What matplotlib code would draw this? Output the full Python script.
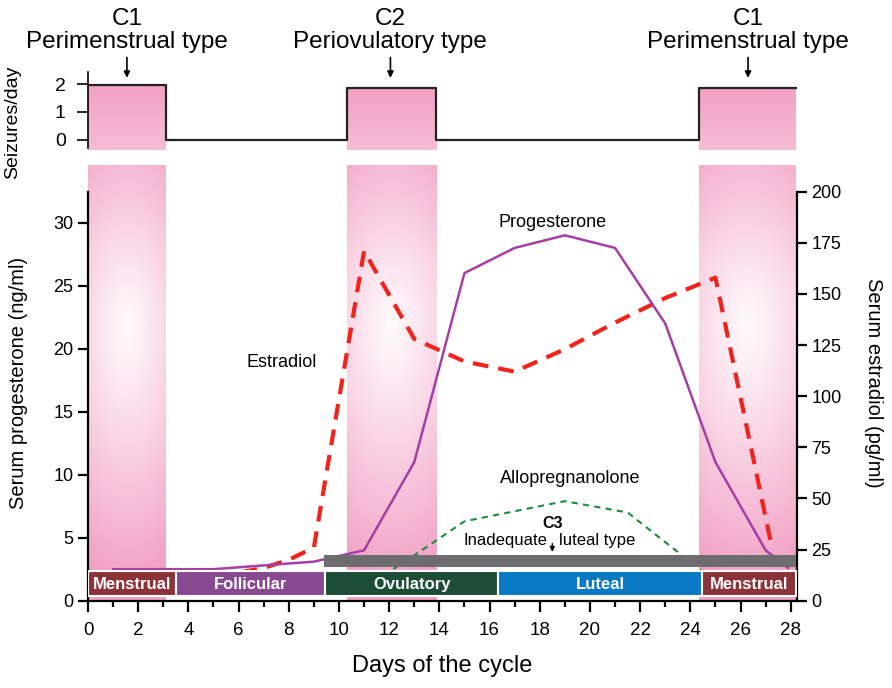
import numpy as np
import matplotlib.pyplot as plt
from matplotlib.colors import to_rgb

# data
days_prog = [1, 3, 5, 7, 9, 11, 13, 15, 17, 19, 21, 23, 25, 27, 27.9]
progesterone = [2.5, 2.5, 2.5, 2.8, 3.1, 4.0, 11.0, 26.0, 28.0, 29.0, 28.0, 22.0, 11.0, 4.0, 2.6]

days_e2 = [1, 3, 5, 7, 8, 9, 11, 13, 15, 17, 19, 21, 23, 25, 27.2]
estradiol = [8, 8.5, 11.5, 16, 20, 26, 171, 128, 117, 112, 123, 136, 148, 158, 29]

days_allo = [1, 5, 9, 11, 12, 13, 15, 17, 19, 21.5, 24.5]
allopregnanolone = [0.5, 0.5, 0.5, 1.0, 2.3, 3.6, 6.3, 7.1, 7.9, 7.0, 2.3]

phase_names = ['Menstrual', 'Follicular', 'Ovulatory', 'Luteal', 'Menstrual']
phase_start = [0, 3.5, 9.45, 16.35, 24.45]
phase_end = [3.5, 9.45, 16.35, 24.45, 28.2]
phase_colors = ['#8C3339', '#874A90', '#1E4D36', '#0A79C4', '#8C3339']

seizure_edges = [0.05, 3.1, 10.3, 13.85, 24.35, 28.2]
seizures = [1.97, 0, 1.85, 0, 1.85]

band_start = [0, 10.3, 24.35]
band_end = [3.1, 13.85, 28.2]
band_labels = ['C1\nPerimenstrual type', 'C2\nPeriovulatory type', 'C1\nPerimenstrual type']
band_label_days = [1.55, 12.05, 26.3]

c3_start, c3_end = 9.4, 28.2

plt.rcParams['font.family'] = ['Liberation Sans', 'DejaVu Sans']

pink = np.array(to_rgb('#F2A0C4'))

fig = plt.figure(figsize=(8.92, 6.88), dpi=100)
ax = fig.add_axes([88 / 892, 1 - 600.7 / 688, 709 / 892, (600.7 - 165) / 688])
ax2 = ax.twinx()
ax_top = fig.add_axes([88 / 892, 1 - 150 / 688, 709 / 892, 78 / 688])

xmax = 28.25
ymax_l = 34.58
ymax_r = ymax_l * 200 / 32.46

# estradiol and the pink bands sit on the lower (twin) axes
ax.set_zorder(ax2.get_zorder() + 1)
ax.patch.set_visible(False)

ny, nx = 200, 40
fy = np.linspace(0, 1, ny)[:, None]
fx = np.linspace(-1, 1, nx)[None, :]
dy = np.where(fy < 0.368, (fy - 0.368) / 0.5, (fy - 0.368) / 0.6)
r = np.sqrt(dy ** 2 + (0.4 * fx) ** 2)
alpha = 0.05 + 0.95 * np.clip(r, 0, 1) ** 1.1
img = np.ones((ny, nx, 3)) * (1 - alpha[..., None]) + pink * alpha[..., None]
for s, e in zip(band_start, band_end):
    ax2.imshow(img, extent=(s, e, 0, ymax_r), aspect='auto', origin='upper',
               interpolation='bilinear', zorder=0)

ax2.plot(days_e2, estradiol, color='#F2231C', lw=3, dashes=(3.8, 2.4), zorder=2)

ax.plot(days_allo, allopregnanolone, color='#1E8A3C', lw=1.5, dashes=(3, 2.5), zorder=2)
ax.plot(days_prog, progesterone, color='#A43FA6', lw=1.8, zorder=3)
ax.barh(3.12, c3_end - c3_start, left=c3_start, height=0.95, color='#6D6D6F', zorder=4)
ax.barh(1.35, np.subtract(phase_end, phase_start), left=phase_start, height=2.0,
        color=phase_colors, edgecolor='white', lw=1.5, zorder=5)
for name, s, e in zip(phase_names, phase_start, phase_end):
    ax.text((s + e) / 2, 1.3, name, color='white', fontsize=12, fontweight='bold',
            ha='center', va='center', zorder=6)

ax.text(7.7, 18.9, 'Estradiol', fontsize=13, ha='center', va='center')
ax.text(18.5, 30.0, 'Progesterone', fontsize=13, ha='center', va='center')
ax.text(19.2, 9.7, 'Allopregnanolone', fontsize=13, ha='center', va='center')
ax.text(18.5, 6.15, 'C3', fontsize=11.5, fontweight='bold', ha='center', va='center')
ax.text(18.3, 4.8, 'Inadequate', fontsize=12, ha='right', va='center')
ax.text(18.75, 4.8, 'luteal type', fontsize=12, ha='left', va='center')
ax.annotate('', xy=(18.5, 3.65), xytext=(18.5, 4.75),
            arrowprops=dict(arrowstyle='-|>', color='black', lw=1, mutation_scale=7))

ax.set_xlim(0, xmax)
ax.set_ylim(0, ymax_l)
ax2.set_ylim(0, ymax_r)
ax.set_xticks(range(0, 29, 2))
ax.set_xticks(range(1, 29, 2), minor=True)
ax.set_yticks(range(0, 31, 5))
ax2.set_yticks(range(0, 201, 25))
for a in (ax, ax2):
    a.spines['top'].set_visible(False)
    for sp in a.spines.values():
        sp.set_linewidth(1.6)
ax.spines['right'].set_visible(False)
ax2.spines['left'].set_visible(False)
ax2.spines['bottom'].set_visible(False)
ax.spines['left'].set_bounds(0, 32.46)
ax2.spines['right'].set_bounds(0, 200)
ax.tick_params(axis='x', which='major', length=8, width=1.6, labelsize=13.5, pad=7)
ax.tick_params(axis='x', which='minor', length=4, width=1.6)
ax.tick_params(axis='y', length=7, width=1.6, labelsize=13)
ax2.tick_params(axis='y', length=7, width=1.6, labelsize=13)
ax.set_xlabel('Days of the cycle', fontsize=17, labelpad=12)
ax.set_ylabel('Serum progesterone (ng/ml)', fontsize=14.5, labelpad=18)
ax2.set_ylabel('Serum estradiol (pg/ml)', fontsize=14.5, rotation=270, labelpad=30)

# top panel: seizure frequency
ty = np.linspace(0, 1, 60)[:, None, None]
top_img = pink * (1 - 0.3 * ty) + 0.3 * ty
for s, e, h in zip(band_start, band_end, [1.97, 1.85, 1.85]):
    ax_top.imshow(np.repeat(top_img, 2, axis=1), extent=(s, e, -0.36, h), aspect='auto',
                  origin='upper', interpolation='bilinear', zorder=0)
ax_top.step(seizure_edges, seizures + [seizures[-1]], where='post', color='#222222', lw=1.6, zorder=2)
ax_top.set_xlim(0, xmax)
ax_top.set_ylim(-0.36, 2.43)
ax_top.set_yticks([0, 1, 2])
ax_top.set_xticks([])
for k in ('top', 'right', 'bottom'):
    ax_top.spines[k].set_visible(False)
ax_top.spines['left'].set_linewidth(1.2)
ax_top.spines['left'].set_bounds(-0.3, 2.43)
ax_top.tick_params(axis='y', length=8, width=1.2, labelsize=14, pad=8)
ax_top.set_ylabel('Seizures/day', fontsize=14, labelpad=21)
ax_top.yaxis.set_label_coords(-0.095, 0.35)
ax_top.patch.set_visible(False)

for lab, d in zip(band_labels, band_label_days):
    ax_top.text(d, 3.1, lab, ha='center', va='bottom', fontsize=17.5,
                linespacing=1.05, clip_on=False)
    ax_top.annotate('', xy=(d, 2.12), xytext=(d, 3.05),
                    arrowprops=dict(arrowstyle='-|>', color='black', lw=1.2, mutation_scale=9))

fig.savefig('out.png', dpi=100)
